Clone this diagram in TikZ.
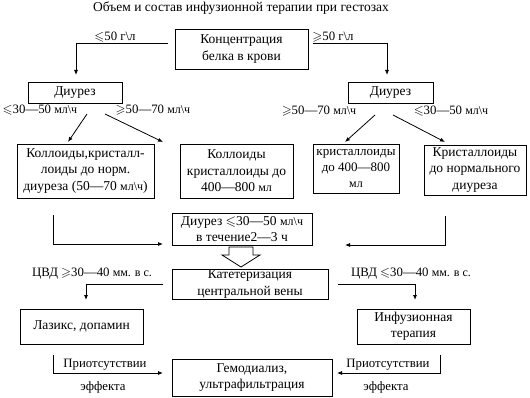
\documentclass[tikz,border=0pt]{standalone}
\usepackage{amssymb}
\usepackage{fontspec}
\setmainfont{Liberation Serif}
\usetikzlibrary{arrows.meta}
\newcommand\bsl{\textbackslash}
\newcommand\unt[1]{{\fontsize{12}{14}\selectfont #1}}
\begin{document}
\begin{tikzpicture}[x=1pt,y=-1pt,
 box/.style={draw,line width=0.8pt,inner sep=0pt,align=center,font=\fontsize{13.5}{16.5}\selectfont},
 lbl/.style={inner sep=0pt,font=\fontsize{12.8}{14}\selectfont},
 conn/.style={line width=0.8pt},
 arr/.style={conn,-{Latex[length=5pt,width=4pt]}},
 hollow/.style={draw,line width=0.8pt,fill=white}]
\useasboundingbox (0,0) rectangle (530,398);

% title
\node[lbl,font=\fontsize{13.5}{15}\selectfont] (title) at (241,8) {Объем и состав инфузионной терапии при гестозах};

% boxes
\node[box,minimum width=133pt,minimum height=40pt] (top) at (241.5,49) {Концентрация\\белка в крови};
\node[box,minimum width=94pt,minimum height=21pt] (dL) at (75,92.5) {Диурез};
\node[box,minimum width=85pt,minimum height=21pt] (dR) at (390.5,92.5) {Диурез};
\node[box,minimum width=137pt,minimum height=54pt] (b1) at (85.5,171) {Коллоиды,кристалл-\\лоиды до норм.\\диуреза (50—70 \unt{мл\bsl ч})};
\node[box,minimum width=113pt,minimum height=54pt] (b2) at (236.5,171) {Коллоиды\\кристаллоиды до\\400—800 \unt{мл}};
\node[box,minimum width=86pt,minimum height=49pt,font=\fontsize{13}{16}\selectfont] (b3) at (356,168.5) {кристаллоиды\\до 400—800\\\unt{мл}};
\node[box,minimum width=102pt,minimum height=50pt] (b4) at (475,170) {Кристаллоиды\\до нормального\\диуреза};
\node[box,minimum width=140pt,minimum height=32pt] (d2) at (242,229) {Диурез $\leqslant$30—50 \unt{мл\bsl ч}\\в течение2—3 ч};
\node[box,minimum width=156pt,minimum height=30pt] (cat) at (250,284) {Катетеризация\\центральной вены};
\node[box,minimum width=123pt,minimum height=35pt] (las) at (81.5,326.5) {Лазикс, допамин};
\node[box,minimum width=113pt,minimum height=35pt] (inf) at (413.5,326.5) {Инфузионная\\терапия};
\node[box,minimum width=160pt,minimum height=37pt] (gem) at (252,377.5) {Гемодиализ,\\ультрафильтрация};

% labels
\node[lbl] (l1) at (115,37) {$\leqslant$50 г\bsl л};
\node[lbl] (l2) at (333,37) {$\geqslant$50 г\bsl л};
\node[lbl] (l3) at (40,110) {$\leqslant$30—50 \unt{мл\bsl ч}};
\node[lbl] (l4) at (153,110) {$\geqslant$50—70 \unt{мл\bsl ч}};
\node[lbl] (l5) at (319,111) {$\geqslant$50—70 \unt{мл\bsl ч}};
\node[lbl] (l6) at (451,111) {$\leqslant$30—50 \unt{мл\bsl ч}};
\node[lbl] (l7) at (92,274) {ЦВД $\geqslant$30—40 \unt{мм. в с.}};
\node[lbl] (l8) at (411,274) {ЦВД $\leqslant$30—40 \unt{мм. в с.}};
\node[lbl] (l9) at (105,365) {Приотсутствии};
\node[lbl] (l10) at (103,387) {эффекта};
\node[lbl] (l11) at (388,365) {Приотсутствии};
\node[lbl] (l12) at (386,387) {эффекта};

% free ends
\coordinate (p1) at (168,43);
\coordinate (p2) at (76,75);
\coordinate (p3) at (313,43);
\coordinate (p4) at (387,75);
\coordinate (q1) at (87,114);
\coordinate (q2) at (68,142);
\coordinate (q3) at (105,114);
\coordinate (q4) at (163,142);
\coordinate (q5) at (375,115);
\coordinate (q6) at (345,142);
\coordinate (q7) at (393,115);
\coordinate (q8) at (445,142);
\coordinate (r1) at (53,215);
\coordinate (r2) at (163,244);
\coordinate (r3) at (445,216);
\coordinate (r4) at (345,245);
\coordinate (s1) at (163,284);
\coordinate (s2) at (86,300);
\coordinate (s3) at (338,284);
\coordinate (s4) at (415,300);
\coordinate (t1) at (53,355);
\coordinate (t2) at (163,373);
\coordinate (t3) at (440,355);
\coordinate (t4) at (337,373);

% connectors
\draw[arr] (p1) -| (p2);
\draw[arr] (p3) -| (p4);
\draw[arr] (q1) -- (q2);
\draw[arr] (q3) -- (q4);
\draw[arr] (q5) -- (q6);
\draw[arr] (q7) -- (q8);
\draw[arr] (r1) |- (r2);
\draw[arr] (r3) |- (r4);
\draw[arr] (s1) -| (s2);
\draw[arr] (s3) -| (s4);
\draw[arr] (t1) |- (t2);
\draw[arr] (t3) |- (t4);

% hollow arrow
\draw[hollow] (229,247) -- (253,247) -- (253,255) -- (260,255) -- (241,267) -- (222,255) -- (229,255) -- cycle;
\end{tikzpicture}
\end{document}
